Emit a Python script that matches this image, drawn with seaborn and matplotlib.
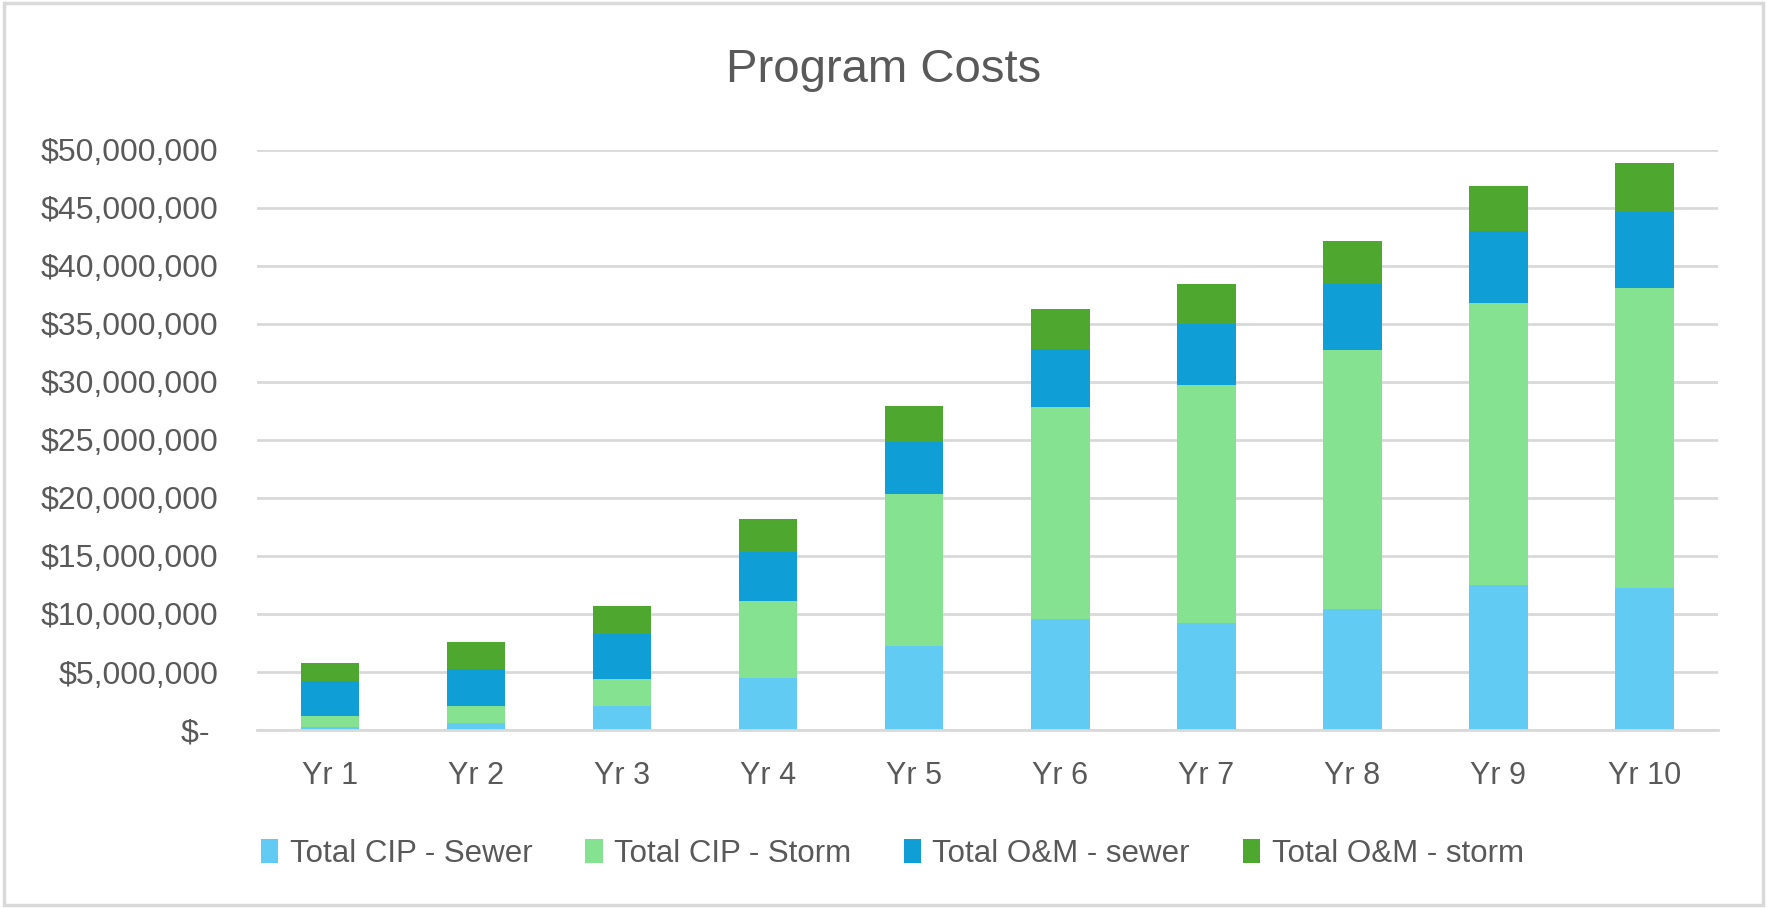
import matplotlib
matplotlib.use('Agg')
import matplotlib.pyplot as plt
import matplotlib.ticker as mtick
from matplotlib.patches import Patch, Rectangle
import seaborn as sns

# values ($)
years = ['Yr 1', 'Yr 2', 'Yr 3', 'Yr 4', 'Yr 5', 'Yr 6', 'Yr 7', 'Yr 8', 'Yr 9', 'Yr 10']
cip_sewer = [0.28e6, 0.58e6, 2.04e6, 4.50e6, 7.25e6, 9.55e6, 9.25e6, 10.40e6, 12.50e6, 12.20e6]
cip_storm = [0.95e6, 1.52e6, 2.33e6, 6.65e6, 13.05e6, 18.25e6, 20.50e6, 22.35e6, 24.30e6, 25.90e6]
om_sewer = [2.97e6, 3.20e6, 3.88e6, 4.22e6, 4.55e6, 5.05e6, 5.20e6, 5.65e6, 6.20e6, 6.55e6]
om_storm = [1.60e6, 2.30e6, 2.45e6, 2.78e6, 3.10e6, 3.40e6, 3.45e6, 3.75e6, 3.90e6, 4.20e6]

series_names = ['Total CIP - Sewer', 'Total CIP - Storm', 'Total O&M - sewer', 'Total O&M - storm']
series_colors = ['#61CBF3', '#84E291', '#0F9ED5', '#4EA72E']

sns.set_theme(style='white')
plt.rcParams['font.family'] = ['Liberation Sans', 'DejaVu Sans']
text_grey = '#595959'

fig = plt.figure(figsize=(17.67, 9.08), dpi=100)
ax = fig.add_axes([0.1455, 0.196, 0.8265, 0.639])

bottom = [0.0] * len(years)
for vals, name, col in zip([cip_sewer, cip_storm, om_sewer, om_storm], series_names, series_colors):
    sns.barplot(x=years, y=vals, bottom=bottom, color=col, width=0.4, ax=ax,
                saturation=1, linewidth=0)
    bottom = [b + v for b, v in zip(bottom, vals)]

ax.set_ylim(0, 50e6)
ax.set_xlim(-0.5, 9.5)
ax.set_yticks(range(0, 50000001, 5000000))
ax.yaxis.set_major_formatter(mtick.FuncFormatter(lambda v, p: '$- ' if v == 0 else f'${v:,.0f}'))
ax.yaxis.grid(True, color='#d9d9d9', linewidth=2)
ax.set_axisbelow(True)
for s in ['top', 'right', 'left']:
    ax.spines[s].set_visible(False)
ax.spines['bottom'].set_color('#d9d9d9')
ax.spines['bottom'].set_linewidth(2)
ax.tick_params(axis='y', length=0, pad=28, labelsize=23, labelcolor=text_grey)
ax.tick_params(axis='x', length=0, pad=22, labelsize=22, labelcolor=text_grey)
ax.set_xlabel('')
ax.set_ylabel('')

fig.text(0.5, 1 - 70 / 908, 'Program Costs', ha='center', va='center',
         fontsize=34, color=text_grey)

handles = [Patch(facecolor=c, edgecolor='none', label=n) for n, c in zip(series_names, series_colors)]
leg = fig.legend(handles=handles, loc='center', bbox_to_anchor=(0.505, 1 - 854 / 908), ncol=4,
                 frameon=False, handlelength=0.55, handleheight=0.8, handletextpad=0.36,
                 columnspacing=1.7, prop={'size': 22.5})
for t in leg.get_texts():
    t.set_color(text_grey)

# light outline round the chart area like the spreadsheet frame
fig.patches.append(Rectangle((0.002, 0.003), 0.996, 0.994, transform=fig.transFigure,
                             fill=False, edgecolor='#d9d9d9', linewidth=2.5))

fig.savefig('out.png', dpi=100, facecolor='white')
